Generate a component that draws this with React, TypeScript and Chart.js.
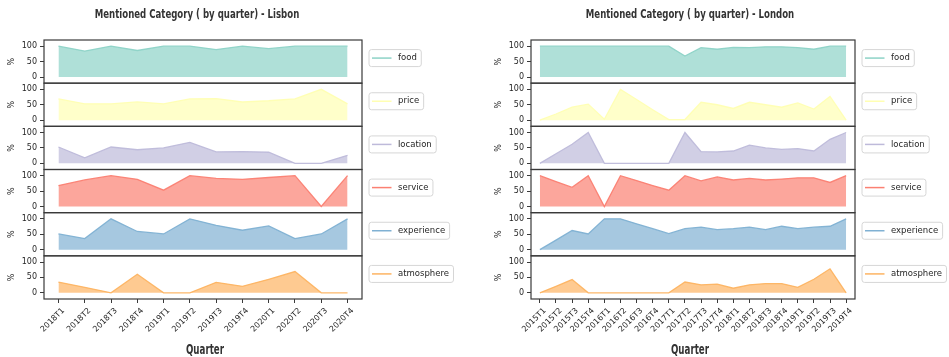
import React, { useEffect, useRef } from 'react';
import { Chart, registerables } from 'chart.js';

Chart.register(...registerables);

// ---- data -------------------------------------------------------------
const CATEGORIES = ['food', 'price', 'location', 'service', 'experience', 'atmosphere'];
const Y_TICKS = [0, 50, 100];

const LISBON_QUARTERS = [
  '2018T1', '2018T2', '2018T3', '2018T4',
  '2019T1', '2019T2', '2019T3', '2019T4',
  '2020T1', '2020T2', '2020T3', '2020T4',
];
const lisbonFood = [100, 84, 100, 86, 100, 100, 89, 100, 92, 100, 100, 100];
const lisbonPrice = [69, 53, 53, 59, 53, 69, 70, 59, 63, 69, 100, 53];
const lisbonLocation = [53, 18, 53, 44, 50, 68, 37, 38, 36, 0, 0, 26];
const lisbonService = [68, 86, 100, 88, 53, 100, 91, 88, 94, 100, 0, 100];
const lisbonExperience = [51, 36, 100, 59, 51, 100, 79, 63, 77, 36, 51, 100];
const lisbonAtmosphere = [35, 18, 0, 60, 0, 0, 34, 21, 44, 69, 0, 0];

const LONDON_QUARTERS = [
  '2015T1', '2015T2', '2015T3', '2015T4',
  '2016T1', '2016T2', '2016T3', '2016T4',
  '2017T1', '2017T2', '2017T3', '2017T4',
  '2018T1', '2018T2', '2018T3', '2018T4',
  '2019T1', '2019T2', '2019T3', '2019T4',
];
const londonFood = [100, 100, 100, 100, 100, 100, 100, 100, 100, 68, 95, 90, 96, 95, 98, 98, 95, 90, 100, 100];
const londonPrice = [0, 20, 42, 52, 3, 100, 67, 34, 2, 2, 58, 50, 38, 58, 50, 42, 56, 36, 77, 0];
const londonLocation = [0, 31, 62, 100, 0, 0, 0, 0, 0, 100, 38, 37, 40, 59, 50, 45, 48, 40, 78, 100];
const londonService = [100, 81, 62, 100, 0, 100, 84, 68, 53, 100, 83, 96, 86, 91, 86, 89, 93, 93, 78, 100];
const londonExperience = [0, 31, 62, 51, 100, 100, 84, 68, 52, 68, 73, 65, 68, 73, 65, 76, 68, 73, 76, 100];
const londonAtmosphere = [0, 21, 43, 0, 0, 0, 0, 0, 0, 35, 26, 28, 15, 26, 30, 30, 18, 44, 78, 0];

// ---- styles -----------------------------------------------------------
const COLORS = ['#8dd3c7', '#ffffb3', '#bebada', '#fb8072', '#80b1d3', '#fdb462'];
const FONT = '"DejaVu Sans", sans-serif';
const TEXT = '#262626';
const AXIS = '#3a3a3a';

function rgba(hex: string, a: number) {
  const n = parseInt(hex.slice(1), 16);
  return `rgba(${(n >> 16) & 255},${(n >> 8) & 255},${n & 255},${a})`;
}

// Narrow heading text: regular face squeezed horizontally
function drawCondensed(ctx: CanvasRenderingContext2D, text: string, cx: number, cy: number, size: number, squeeze: number) {
  ctx.save();
  ctx.translate(cx, cy);
  ctx.scale(squeeze, 1);
  ctx.font = `bold ${size}px ${FONT}`;
  ctx.fillStyle = '#333333';
  ctx.textAlign = 'center';
  ctx.textBaseline = 'middle';
  ctx.fillText(text, 0, 0);
  ctx.restore();
}

type PanelProps = {
  left: number;
  width: number;
  title: string;
  quarters: string[];
  series: number[][];
  padLeft: number;
  padRight: number;
  titleX: number;
  xLabelX: number;
};

function Panel({ left, width, title, quarters, series, padLeft, padRight, titleX, xLabelX }: PanelProps) {
  const ref = useRef<HTMLCanvasElement>(null);

  useEffect(() => {
    const canvas = ref.current;
    if (!canvas) return;

    const yScales: Record<string, any> = {};
    CATEGORIES.forEach((_, k) => {
      yScales['y' + k] = {
        type: 'linear',
        position: 'left',
        stack: 'rows',
        stackWeight: 1,
        weight: CATEGORIES.length - k,
        min: -20,
        max: 120,
        afterBuildTicks: (s: any) => {
          s.ticks = Y_TICKS.map((v) => ({ value: v }));
        },
        afterFit: (s: any) => {
          s.width = 44;
        },
        grid: { drawOnChartArea: false, drawTicks: true, tickLength: 4, color: AXIS, lineWidth: 1 },
        border: { display: false },
        ticks: { font: { family: FONT, size: 8 }, color: TEXT, padding: 3 },
        title: {
          display: true,
          text: '%',
          font: { family: FONT, size: 8 },
          color: TEXT,
          padding: { top: 7, bottom: 0 },
        },
      };
    });

    const decor = {
      id: 'panelDecor',
      afterDraw(chart: any) {
        const { ctx, chartArea } = chart;
        ctx.save();
        // subplot frames
        CATEGORIES.forEach((_, k) => {
          const s = chart.scales['y' + k];
          ctx.strokeStyle = AXIS;
          ctx.lineWidth = 1.2;
          ctx.strokeRect(chartArea.left, s.top, chartArea.right - chartArea.left, s.bottom - s.top);
        });
        // per-row legends
        chart.data.datasets.forEach((ds: any, k: number) => {
          const s = chart.scales[ds.yAxisID];
          const cy = (s.top + s.bottom) / 2 - 3.5;
          const lx = chartArea.right + 7;
          ctx.font = `8.5px ${FONT}`;
          const tw = ctx.measureText(ds.label).width;
          const w = 3 + 19.5 + 6.5 + tw + 4.5;
          const h = 17;
          ctx.beginPath();
          ctx.roundRect(lx, cy - h / 2, w, h, 2.5);
          ctx.fillStyle = 'rgba(255,255,255,0.9)';
          ctx.fill();
          ctx.strokeStyle = '#d6d6d6';
          ctx.lineWidth = 1;
          ctx.stroke();
          ctx.beginPath();
          ctx.moveTo(lx + 3, cy);
          ctx.lineTo(lx + 22.5, cy);
          ctx.strokeStyle = COLORS[k];
          ctx.lineWidth = 1.5;
          ctx.stroke();
          ctx.fillStyle = TEXT;
          ctx.textAlign = 'left';
          ctx.textBaseline = 'middle';
          ctx.fillText(ds.label, lx + 29, cy);
        });
        ctx.restore();
        drawCondensed(ctx, title, titleX, 15, 13, 0.66);
        drawCondensed(ctx, 'Quarter', xLabelX, 350, 14, 0.62);
      },
    };

    const chart = new Chart(canvas, {
      type: 'line',
      data: {
        datasets: CATEGORIES.map((cat, k) => ({
          label: cat,
          data: series[k].map((v, i) => ({ x: i, y: v })),
          xAxisID: 'x',
          yAxisID: 'y' + k,
          borderColor: rgba(COLORS[k], 0.95),
          backgroundColor: rgba(COLORS[k], 0.7),
          borderWidth: 1.3,
          fill: 'origin',
          pointRadius: 0,
          tension: 0,
        })),
      },
      options: {
        responsive: false,
        animation: false,
        devicePixelRatio: 1,
        layout: { padding: { top: 40, left: padLeft, right: padRight, bottom: 0 } },
        plugins: { legend: { display: false }, tooltip: { enabled: false } },
        scales: {
          x: {
            type: 'linear',
            position: 'bottom',
            min: -0.55,
            max: quarters.length - 1 + 0.55,
            afterBuildTicks: (s: any) => {
              s.ticks = quarters.map((_, i) => ({ value: i }));
            },
            afterFit: (s: any) => {
              s.height = 58;
            },
            grid: { drawOnChartArea: false, drawTicks: true, tickLength: 4, color: AXIS, lineWidth: 1 },
            border: { display: false },
            ticks: {
              autoSkip: false,
              minRotation: 45,
              maxRotation: 45,
              padding: 3,
              labelOffset: 5,
              font: { family: FONT, size: 8 },
              color: TEXT,
              callback: (v: any) => quarters[v] ?? '',
            },
          },
          ...yScales,
        },
      },
      plugins: [decor],
    } as any);

    return () => chart.destroy();
  }, []);

  return (
    <canvas
      ref={ref}
      width={width}
      height={357}
      style={{ position: 'absolute', left, top: 0, width, height: 357 }}
    />
  );
}

export default function App() {
  return (
    <div style={{ position: 'absolute', left: 0, top: 0, width: 949, height: 357, background: '#fff', overflow: 'hidden' }}>
      <Panel
        left={0}
        width={470}
        title="Mentioned Category ( by quarter) - Lisbon"
        quarters={LISBON_QUARTERS}
        series={[lisbonFood, lisbonPrice, lisbonLocation, lisbonService, lisbonExperience, lisbonAtmosphere]}
        padLeft={0}
        padRight={108}
        titleX={197}
        xLabelX={205}
      />
      <Panel
        left={487}
        width={462}
        title="Mentioned Category ( by quarter) - London"
        quarters={LONDON_QUARTERS}
        series={[londonFood, londonPrice, londonLocation, londonService, londonExperience, londonAtmosphere]}
        padLeft={0}
        padRight={94}
        titleX={203}
        xLabelX={203}
      />
    </div>
  );
}
